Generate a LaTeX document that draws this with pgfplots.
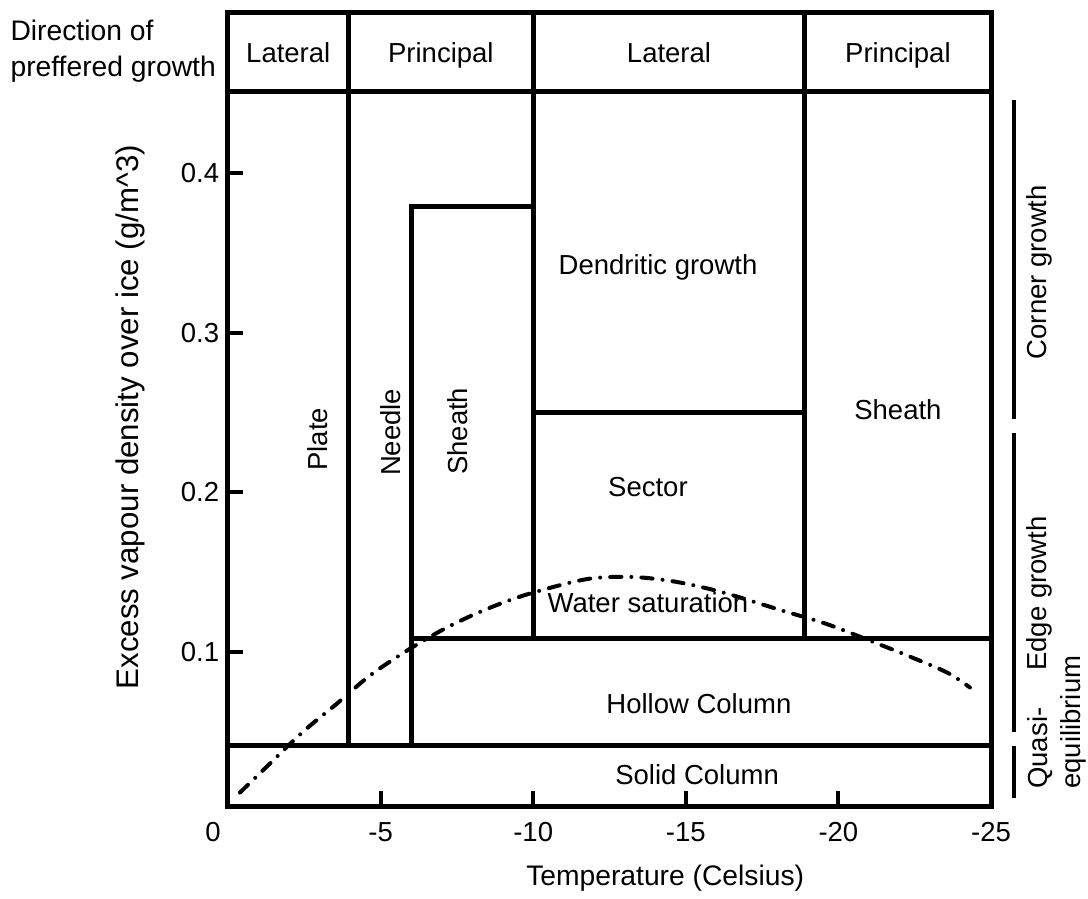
\documentclass[border=0pt]{standalone}
\usepackage{fontspec}
\setmainfont{Liberation Sans}
\usepackage{pgfplots}
\pgfplotsset{compat=1.18}

\begin{document}
\begin{tikzpicture}[font=\fontsize{11}{14.4}\selectfont, head/.style={anchor=base}]
\begin{axis}[
  scale only axis, width=305.2pt, height=317.6pt,
  x dir=reverse, xmin=-25, xmax=0, ymin=0.003, ymax=0.501,
  clip=false,
  axis line style={line width=2pt, line cap=rect},
  xtick={0,-5,-10,-15,-20,-25},
  xticklabels={{0\hspace*{12pt}},-5,-10,-15,-20,-25},
  ytick={0.1,0.2,0.3,0.4},
  yticklabels={0.1,0.2,0.3,0.4},
  xtick pos=bottom, ytick pos=left, tick align=inside,
  major tick length=6pt,
  every tick/.style={line width=1.6pt, black},
  xticklabel style={yshift=-3pt},
  tick label style={font=\fontsize{11}{13}\selectfont},
  xlabel={Temperature (Celsius)},
  ylabel={Excess vapour density over ice (g/m\textasciicircum 3)},
  xlabel style={at={(axis description cs:0.573,-0.0907)}, anchor=center,
                font=\fontsize{11.3}{14}\selectfont},
  ylabel style={at={(axis description cs:-0.1284,0.49)}, anchor=center,
                font=\fontsize{12.5}{14}\selectfont},
  region/.style={line width=2pt, line cap=rect, black, mark=none},
]
% growth-direction header band
\addplot[region] coordinates {(0,0.451) (-25,0.451)};
\addplot[region] coordinates {(-3.95,0.041) (-3.95,0.501)};
\addplot[region] coordinates {(-10,0.108) (-10,0.501)};
\addplot[region] coordinates {(-18.9,0.108) (-18.9,0.501)};
% habit regions
\addplot[region] coordinates {(-6,0.041) (-6,0.379) (-10,0.379)};
\addplot[region] coordinates {(-10,0.25) (-18.9,0.25)};
\addplot[region] coordinates {(-6,0.108) (-25,0.108)};
\addplot[region] coordinates {(0,0.041) (-25,0.041)};

% water saturation curve
\addplot[black, line width=1.6pt, line cap=round, smooth, mark=none,
  dash pattern=on 4.5pt off 4pt on 0.01pt off 4pt] coordinates {
  (-0.39,0.0116) (-1.44,0.0310) (-2.46,0.0498) (-3.57,0.0674)
  (-4.65,0.0850) (-5.87,0.1007) (-7.11,0.1145) (-8.36,0.1258)
  (-9.80,0.1359) (-11.76,0.1455) (-13.27,0.1468) (-14.71,0.1437)
  (-16.22,0.1371) (-18.15,0.1258) (-19.56,0.1177) (-20.94,0.1076)
  (-22.25,0.0976) (-23.56,0.0869) (-24.31,0.0775)};

% header labels
\node[head] at (axis cs:-1.975,0.4698) {Lateral};
\node[head] at (axis cs:-6.975,0.4698) {Principal};
\node[head] at (axis cs:-14.45,0.4698) {Lateral};
\node[head] at (axis cs:-21.95,0.4698) {Principal};
\node[align=left, anchor=west, inner xsep=0pt, font=\fontsize{11.3}{14.4}\selectfont]
  at (axis cs:7.14,0.4767) {Direction of\\preffered growth};

% region labels
\node[rotate=90] at (axis cs:-2.95,0.2332) {Plate};
\node[rotate=90] at (axis cs:-5.34,0.2375) {Needle};
\node[rotate=90] at (axis cs:-7.54,0.2382) {Sheath};
\node at (axis cs:-14.09,0.3411) {Dendritic growth};
\node at (axis cs:-13.76,0.2030) {Sector};
\node at (axis cs:-21.95,0.2520) {Sheath};
\node at (axis cs:-13.76,0.1308) {Water saturation};
\node at (axis cs:-15.43,0.0674) {Hollow Column};
\node at (axis cs:-15.37,0.0229) {Solid Column};

% growth-mode brackets on the right
\draw[line width=1.6pt] (axis cs:-25.75,0.4460) -- (axis cs:-25.75,0.2460);
\draw[line width=1.6pt] (axis cs:-25.75,0.2369) -- (axis cs:-25.75,0.0493);
\draw[line width=1.6pt] (axis cs:-25.75,0.0411) -- (axis cs:-25.75,0.0085);
\node[rotate=90] at (axis cs:-26.6,0.338) {Corner growth};
\node[rotate=90] at (axis cs:-26.6,0.1365) {Edge growth};
\node[rotate=90, anchor=west] at (axis cs:-26.6,0.0085) {Quasi-};
\node[rotate=90, anchor=west] at (axis cs:-27.7,0.0085) {equilibrium};

\coordinate (bbsw) at (axis cs:7.4705,-0.0550);
\coordinate (bbne) at (axis cs:-28.178,0.5087);
\end{axis}
\pgfresetboundingbox
\path[use as bounding box] (bbsw) rectangle (bbne);
\end{tikzpicture}
\end{document}
